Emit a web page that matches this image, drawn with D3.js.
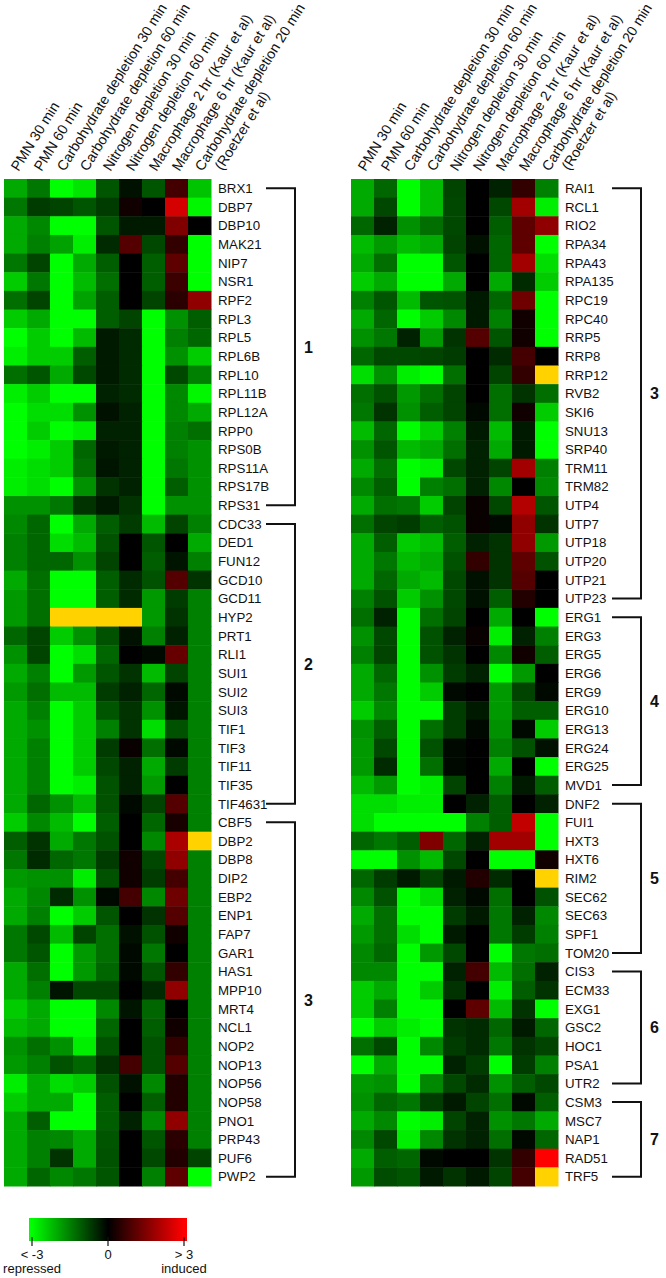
<!DOCTYPE html>
<html>
<head>
<meta charset="utf-8">
<script src="https://cdn.jsdelivr.net/npm/d3@7"></script>
<style>
  body { margin: 0; background: #fff; }
  svg text { font-family: "Liberation Sans", Arial, Helvetica, sans-serif; fill: #111; }
</style>
</head>
<body>
<svg width="666" height="1278"></svg>
<script>
// column labels (last one wraps to two lines)
const conditions = [
  ["PMN 30 min"], ["PMN 60 min"],
  ["Carbohydrate depletion 30 min"], ["Carbohydrate depletion 60 min"],
  ["Nitrogen depletion 30 min"], ["Nitrogen depletion 60 min"],
  ["Macrophage 2 hr (Kaur et al)"], ["Macrophage 6 hr (Kaur et al)"],
  ["Carbohydrate depletion 20 min", "(Roetzer et al)"]
];

const genesLeft = ["BRX1","DBP7","DBP10","MAK21","NIP7","NSR1","RPF2","RPL3","RPL5","RPL6B","RPL10","RPL11B","RPL12A","RPP0","RPS0B","RPS11A","RPS17B","RPS31",
  "CDC33","DED1","FUN12","GCD10","GCD11","HYP2","PRT1","RLI1","SUI1","SUI2","SUI3","TIF1","TIF3","TIF11","TIF35","TIF4631",
  "CBF5","DBP2","DBP8","DIP2","EBP2","ENP1","FAP7","GAR1","HAS1","MPP10","MRT4","NCL1","NOP2","NOP13","NOP56","NOP58","PNO1","PRP43","PUF6","PWP2"];

const genesRight = ["RAI1","RCL1","RIO2","RPA34","RPA43","RPA135","RPC19","RPC40","RRP5","RRP8","RRP12","RVB2","SKI6","SNU13","SRP40","TRM11","TRM82","UTP4","UTP7","UTP18","UTP20","UTP21","UTP23",
  "ERG1","ERG3","ERG5","ERG6","ERG9","ERG10","ERG13","ERG24","ERG25","MVD1",
  "DNF2","FUI1","HXT3","HXT6","RIM2","SEC62","SEC63","SPF1","TOM20",
  "CIS3","ECM33","EXG1","GSC2","HOC1","PSA1","UTR2",
  "CSM3","MSC7","NAP1","RAD51","TRF5"];

// log2 ratios, null = no data (yellow)
const valuesLeft = [
  [-2,-1.4,-3,-2.7,-1,-0.2,-1,0.8,-2.3],
  [-1.4,-0.7,-0.8,-1,-0.7,0.2,0,2.5,-2.9],
  [-2,-1.6,-3,-3,-1,-0.3,-0.3,1.5,0],
  [-2,-1.5,-1.9,-2.8,-0.5,1,-0.85,0.6,-3],
  [-1.4,-0.8,-3,-2,-1.1,0,-1.1,1.1,-3],
  [-2.4,-1.4,-3,-2.2,-1.3,0,-1.1,0.7,-3],
  [-1.3,-0.8,-3,-1.9,-1.1,0,-0.8,0.5,1.7],
  [-2.4,-2,-3,-3,-1.1,-0.8,-3,-1.7,-1.1],
  [-3,-2.4,-3,-2.2,-0.3,-0.5,-3,-1.5,-1.2],
  [-2.8,-2.4,-2.4,-1.1,-0.3,-0.5,-3,-1.7,-2.4],
  [-1.3,-1,-2,-0.85,-0.3,-0.5,-3,-0.85,-1.5],
  [-2.8,-2.4,-3,-3,-0.4,-0.5,-3,-1.6,-2.9],
  [-3,-2.6,-2.6,-1.7,-0.2,-0.4,-3,-1.6,-2],
  [-3,-2.4,-3,-2.8,-0.4,-0.4,-3,-1.5,-1.3],
  [-3,-2.8,-2.4,-1.2,-0.3,-0.4,-3,-1.5,-1.7],
  [-2.8,-2.6,-2.4,-1.3,-0.25,-0.4,-3,-1.4,-1.7],
  [-2.8,-2.6,-3,-1.7,-0.6,-0.4,-3,-1.1,-1.7],
  [-1.7,-1.7,-1.4,-0.6,-0.3,-0.6,-3,-1.7,-1.7],
  [-1.6,-1.2,-3,-2,-1.1,-0.7,-2.2,-0.8,-1.5],
  [-1.5,-1.2,-2.6,-2.2,-0.95,0,-1,0,-2],
  [-1.5,-1.2,-1.2,-1.7,-0.8,0,-1.1,-0.25,-1.5],
  [-2,-1.3,-3,-3,-1.1,-0.5,-0.95,1,-0.6],
  [-1.8,-1.3,-3,-3,-1.1,-0.5,-1.8,-0.7,-1.5],
  [-1.8,-1.3,null,null,null,null,-1.8,-0.6,-1.5],
  [-1.2,-0.8,-2.4,-1.7,-0.95,-0.2,-1.5,-0.4,-1.5],
  [-1.7,-0.8,-3,-2.6,-1.2,0,-0.1,1.2,-1.5],
  [-2,-1.5,-3,-1.8,-1,-0.6,-2.2,-0.8,-1.5],
  [-1.8,-1.3,-2.2,-2.2,-0.7,-0.4,-1.2,-0.1,-1.5],
  [-2,-1.5,-3,-2.4,-1,-0.6,-1.7,-0.25,-1.5],
  [-2,-1.7,-3,-2.4,-1.5,-0.6,-2.6,-0.95,-1.5],
  [-2,-1.5,-3,-2.4,-0.7,0.1,-1.3,-0.1,-1.5],
  [-2,-1.5,-3,-2.4,-0.85,-0.4,-2,-0.7,-1.5],
  [-2,-1.5,-3,-2.8,-0.95,-0.4,-1.8,0,-1.5],
  [-2,-1.2,-1.7,-2.2,-0.95,-0.1,-0.8,1,-1.5],
  [-2.4,-1.6,-2.2,-3,-1.1,0,-1.2,0.3,-1.5],
  [-1.1,-0.6,-2,-1.4,-0.95,0,-1.6,2,null],
  [-1.4,-0.5,-1.2,-1.4,-0.7,0.2,-0.85,1.7,-1.5],
  [-1.8,-1.7,-1.7,-2.8,-0.95,0.2,-0.7,0.8,-1.5],
  [-2,-1.6,-0.5,-1.7,-0.1,0.8,-1.6,1.3,-1.5],
  [-2,-1.5,-3,-2.4,-1,0,-0.6,1,-1.5],
  [-1.4,-0.85,-2.2,-0.8,-1.3,-0.2,-0.95,0.2,-1.5],
  [-1.4,-1,-3,-1.8,-1.3,-0.1,-1.4,0,-1.5],
  [-2,-1.3,-3,-1.8,-1.2,-0.1,-1,0.6,-1.5],
  [-2,-1.5,-0.25,-0.85,-0.85,0,-0.5,1.7,-1.5],
  [-2.4,-2,-3,-3,-1.6,-0.25,-1.2,0,-1.5],
  [-2.2,-2,-3,-3,-1.2,0,-1.1,0.2,-1.5],
  [-1.7,-1.3,-1.7,-2.8,-0.95,0,-0.95,0.6,-1.5],
  [-1.8,-1.5,-0.95,-1.2,-0.6,0.8,-0.95,1,-1.5],
  [-2.8,-2,-2.6,-2.4,-0.95,-0.2,-1.6,0.4,-1.5],
  [-2.4,-2,-2,-3,-1.1,0,-1.1,0.4,-1.5],
  [-2,-1.1,-3,-3,-1.1,-0.4,-1.6,1.7,-1.5],
  [-2,-1.5,-1.6,-2,-1,0,-1,0.5,-1.5],
  [-2,-1.5,-0.6,-2,-0.95,0,-0.85,0.4,-0.8],
  [-2,-1.2,-1.6,-1.4,-1,0,-1.5,1.1,-3]
];

const valuesRight = [
  [-2,-1.2,-3,-2.2,-0.8,0,-0.4,0.6,-1.5],
  [-2,-0.85,-3,-2.2,-0.85,0,-0.85,1.9,-2.8],
  [-1.2,-0.4,-1.7,-1.3,-0.85,0,-1.1,1.1,1.7],
  [-2.2,-1.8,-2.2,-2,-0.8,-0.2,-1.2,1.1,-3],
  [-2,-1.3,-3,-3,-1,0,-1.2,1.9,-2.6],
  [-2.4,-2,-3,-3,-2,0,-2,-0.5,-2.4],
  [-1.5,-1,-2.2,-1,-0.95,-0.3,-1.2,1.3,-3],
  [-2,-1.2,-3,-2.4,-1.6,-0.3,-1.5,0.2,-3],
  [-1.7,-1.4,-0.4,-1.8,-0.6,1,-1,0.2,-3],
  [-1.2,-0.85,-0.85,-0.8,-0.7,0,-0.5,0.8,0],
  [-2.6,-1.7,-2.8,-3,-1.3,0,-0.8,0.6,null],
  [-1.3,-0.95,-1.8,-1.3,-0.8,0,-1.3,-0.6,-1.3],
  [-1.4,-0.6,-1.7,-1.1,-0.8,-0.1,-1.3,0.2,-2.4],
  [-2.2,-1.2,-3,-2.4,-1.5,-0.3,-2.2,-0.3,-3],
  [-1.7,-1,-2.2,-2,-1.3,-0.4,-2,-0.3,-3],
  [-2,-1.3,-3,-2.8,-0.85,-0.4,-0.8,1.9,-1.5],
  [-1.6,-1.1,-3,-1.5,-1.3,-0.4,-1.6,0,-1.6],
  [-2,-1.3,-1.4,-2.4,-0.8,0.1,-0.85,2.1,-1],
  [-1.3,-0.8,-0.7,-1.1,-0.95,0.1,-0.1,1.7,-0.6],
  [-2,-1.1,-2.4,-2.2,-1.1,-0.4,-0.6,1.7,-1.8],
  [-2,-1.4,-2.2,-2,-0.95,0.6,-0.6,1.1,-0.95],
  [-2,-1.2,-2,-2.2,-0.85,-0.2,-0.6,1,0],
  [-1.5,-0.95,-2.4,-1.7,-0.85,-0.2,-1.1,0.4,0],
  [-1.3,-0.4,-3,-1.3,-0.8,0,-2,0,-3],
  [-1.7,-0.85,-3,-0.95,-0.4,0.1,-2.8,-0.4,-1.5],
  [-1.5,-0.8,-3,-0.95,-0.6,0,-1.6,0.2,-1.1],
  [-2,-1.2,-3,-1.7,-0.7,-0.4,-3,-1.8,0],
  [-2,-1.4,-3,-2.4,-0.1,0,-1.8,-0.8,-0.1],
  [-2.4,-1.6,-3,-3,-0.7,-0.3,-1.8,-1.1,-1.1],
  [-1.7,-1.1,-3,-1.3,-0.7,-0.1,-1.7,-0.1,-2.4],
  [-1.8,-0.85,-3,-0.95,-0.1,0,-1.5,-0.95,-0.2],
  [-1.8,-0.5,-3,-1.3,-0.1,0,-2,0,-3],
  [-2.2,-1.8,-3,-2.8,-0.8,0,-1.5,-0.3,-1.1],
  [-2.6,-2.6,-2.8,-2.8,0,-0.4,-1.1,0,-0.4],
  [-2.6,-3,-3,-3,-3,-1.5,-1.1,2.3,-3],
  [-1.2,-1.4,-1.1,1.5,-1.2,-0.4,1.9,1.9,-3],
  [-3,-3,-1.7,-2.2,-0.85,0,-3,-3,0.2],
  [-1.2,-0.7,-0.3,-0.8,-0.3,0.4,-0.5,0,null],
  [-1.6,-0.95,-3,-2.6,-0.4,-0.1,-1.3,0,-0.95],
  [-2,-1.3,-3,-3,-0.7,-0.3,-1.4,-0.4,-1.6],
  [-1.8,-1.3,-2.6,-3,-0.3,0,-1.4,-0.7,-1.5],
  [-1.6,-1.2,-3,-1.8,-0.85,0,-3,-1.4,-1.3],
  [-1.6,-1.6,-3,-3,-0.4,0.8,-2.2,-1.3,-0.4],
  [-2.4,-2,-3,-2.4,-0.6,0,-2.8,-1.1,-0.6],
  [-2.4,-1.5,-3,-3,0,1.1,-2.2,-0.6,-3],
  [-3,-2.4,-2.8,-3,-0.6,-0.5,-1.2,-0.3,-1.2],
  [-1.3,-0.85,-3,-1.6,-0.7,-0.5,-1.4,-0.6,-0.8],
  [-3,-2,-3,-3,-0.4,-0.7,-3,-0.7,-1.5],
  [-1.8,-1.7,-3,-1.6,-0.85,-0.5,-1.7,-1.1,-0.85],
  [-1.7,-1.2,-1.4,-0.7,-0.3,-0.8,-1.3,-0.1,-1.1],
  [-2,-1.6,-3,-2.8,-0.8,-0.4,-1.7,-1.4,-2],
  [-1.6,-0.85,-2.8,-1.6,-0.6,-0.4,-1.3,-0.1,-1.2],
  [-2,-1.1,-1.2,-0.1,0,0,-0.6,0.6,3],
  [-1.8,-0.9,-1,-0.3,-0.6,-0.3,-0.8,0.8,null]
];

// clusters: [label, first row, last row]
const groupsLeft = [["1",0,17],["2",18,33],["3",34,53]];
const groupsRight = [["3",0,22],["4",23,32],["5",33,41],["6",42,48],["7",49,53]];

const legendTicks = [-3, 0, 3];
const legendLabels = [["< -3","repressed"],["0",""],["> 3","induced"]];

const svg = d3.select("svg");
const color = d3.scaleLinear().domain([-3, 0, 3]).range(["#00ff00", "#000000", "#ff0000"]).clamp(true);
const missing = "#ffd200";

const rowTop = 179, rowBottom = 1186;
const y = d3.scaleBand().domain(d3.range(54)).range([rowTop, rowBottom]);

function panel(x0, genes, values, groups, br) {
  const x = d3.scaleBand().domain(d3.range(9)).range([x0, x0 + 207]);
  const g = svg.append("g");

  values.forEach((row, i) => {
    g.selectAll(null).data(row).enter().append("rect")
      .attr("x", (d, j) => x(j))
      .attr("y", y(i))
      .attr("width", x.bandwidth() + 0.5)
      .attr("height", y.bandwidth() + 0.5)
      .attr("fill", d => d === null ? missing : color(d));
  });

  // column headers
  conditions.forEach((lines, j) => {
    const t = g.append("text")
      .attr("transform", `translate(${x(j) + x.bandwidth() / 2 + 3},172) rotate(-58)`)
      .style("font-size", "14.2px");
    lines.forEach((s, k) => t.append("tspan").attr("x", k ? 11 : 0).attr("dy", k ? 16.4 : 0).text(s));
  });

  // gene names
  g.selectAll(".gene").data(genes).enter().append("text")
    .attr("x", x0 + 214)
    .attr("y", (d, i) => y(i) + y.bandwidth() / 2 + 4.8)
    .style("font-size", "13.3px")
    .text(d => d);

  // cluster brackets
  groups.forEach(([lab, a, b]) => {
    const ya = y(a) + y.bandwidth() / 2, yb = y(b) + y.bandwidth() / 2;
    g.append("path")
      .attr("d", `M${br.h},${ya}H${br.v}V${yb}H${br.h}`)
      .attr("fill", "none").attr("stroke", "#111").attr("stroke-width", 2);
    g.append("text")
      .attr("x", br.v + 9).attr("y", (ya + yb) / 2 + 6)
      .style("font-size", "16px").style("font-weight", "bold")
      .text(lab);
  });
}

panel(4, genesLeft, valuesLeft, groupsLeft, {h: 266, v: 295});
panel(351, genesRight, valuesRight, groupsRight, {h: 612, v: 641});

// legend
const lx = d3.scaleLinear().domain([-3, 3]).range([32, 184]);
const defs = svg.append("defs");
const grad = defs.append("linearGradient").attr("id", "lg");
grad.selectAll("stop").data([-3, 0, 3]).enter().append("stop")
  .attr("offset", d => (lx(d) - 29) / 158)
  .attr("stop-color", d => color(d));
svg.append("rect").attr("x", 29).attr("y", 1218).attr("width", 158).attr("height", 23).attr("fill", "url(#lg)");
const lt = svg.append("g").selectAll("g").data(legendTicks).enter().append("g")
  .attr("transform", d => `translate(${lx(d)},0)`);
lt.append("line").attr("y1", 1237).attr("y2", 1246).attr("stroke", "#111").attr("stroke-width", 1.2);
lt.append("text").attr("y", 1259).attr("text-anchor", "middle").style("font-size", "13px")
  .text((d, i) => legendLabels[i][0]);
lt.append("text").attr("y", 1273).attr("text-anchor", "middle").style("font-size", "13px")
  .text((d, i) => legendLabels[i][1]);
</script>
</body>
</html>
